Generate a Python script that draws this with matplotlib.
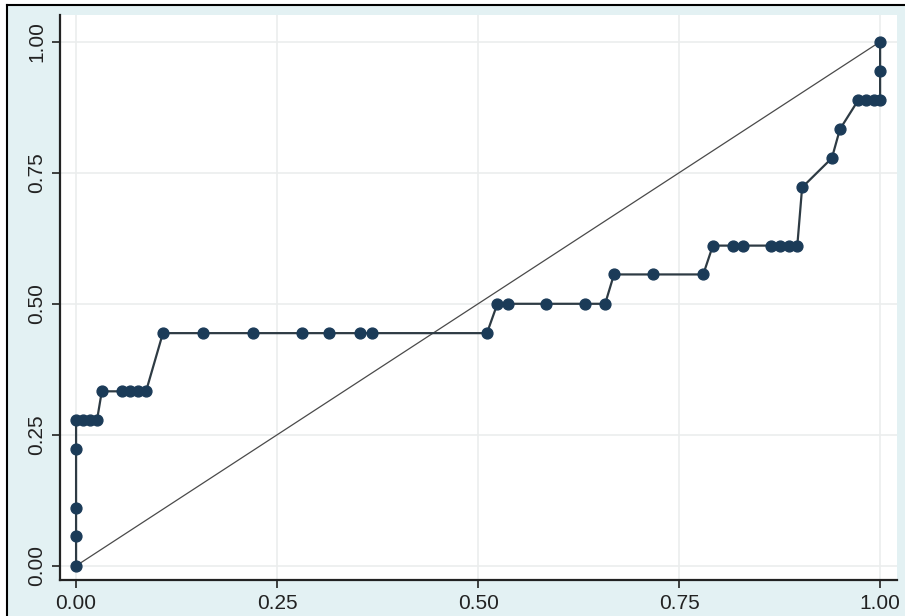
import matplotlib
matplotlib.use('Agg')
import matplotlib.pyplot as plt
from matplotlib.lines import Line2D

plt.rcParams['font.family'] = ['Liberation Sans', 'DejaVu Sans']

# ROC points: 1 - specificity, sensitivity
fpr = [0.0, 0.0, 0.0, 0.0, 0.0,
       0.009, 0.017, 0.026,
       0.032, 0.057, 0.067, 0.077, 0.087,
       0.108, 0.158, 0.220, 0.281, 0.315, 0.353, 0.368, 0.511,
       0.524, 0.537, 0.585, 0.633, 0.658,
       0.669, 0.718, 0.780,
       0.792, 0.817, 0.830, 0.864, 0.876, 0.887, 0.897,
       0.903, 0.940, 0.950,
       0.973, 0.983, 0.993, 1.0,
       1.0, 1.0]
tpr = [0.0, 0.056, 0.111, 0.222, 0.278,
       0.278, 0.278, 0.278,
       0.333, 0.333, 0.333, 0.333, 0.333,
       0.444, 0.444, 0.444, 0.444, 0.444, 0.444, 0.444, 0.444,
       0.5, 0.5, 0.5, 0.5, 0.5,
       0.556, 0.556, 0.556,
       0.611, 0.611, 0.611, 0.611, 0.611, 0.611, 0.611,
       0.722, 0.778, 0.833,
       0.889, 0.889, 0.889, 0.889,
       0.944, 1.0]

ref_line = [0.0, 1.0]
ticks = [0.0, 0.25, 0.5, 0.75, 1.0]
tick_labels = ['0.00', '0.25', '0.50', '0.75', '1.00']

W, H = 905, 616
fig = plt.figure(figsize=(W / 100, H / 100), dpi=100)
fig.patch.set_facecolor('white')

# bluish graph region inside the black frame
bg = plt.Rectangle((7 / W, 0), 1 - 7 / W, 1 - 5 / H, transform=fig.transFigure,
                   facecolor='#e3f1f3', edgecolor='none', zorder=-10)
fig.patches.append(bg)
fig.add_artist(Line2D([7 / W, 1], [1 - 5 / H, 1 - 5 / H], color='black', lw=1.5))
fig.add_artist(Line2D([7 / W, 7 / W], [0, 1 - 5 / H], color='black', lw=1.5))

left, right, top, bottom = 60, 897, 15, 580
ax = fig.add_axes([left / W, 1 - bottom / H, (right - left) / W, (bottom - top) / H])
ax.set_facecolor('white')

ax.plot(ref_line, ref_line, color='#4a4a4a', lw=0.9, zorder=2)
ax.plot(fpr, tpr, color='#2e3b44', lw=1.6, marker='o', markersize=7.8,
        markerfacecolor='#1b3b58', markeredgecolor='#1b3b58', zorder=3)

ax.set_xlim(-0.02, 1.021)
ax.set_ylim(-0.027, 1.051)
ax.set_xticks(ticks)
ax.set_xticklabels(tick_labels)
ax.set_yticks(ticks)
ax.set_yticklabels(tick_labels, rotation=90, va='center')
ax.grid(True, color='#ebeded', lw=1.2)
ax.set_axisbelow(True)

for side in ['top', 'right']:
    ax.spines[side].set_visible(False)
for side in ['left', 'bottom']:
    ax.spines[side].set_color('#222222')
    ax.spines[side].set_linewidth(1.6)
ax.tick_params(direction='out', length=6, width=1.2, color='#222222',
               labelsize=15, labelcolor='#222222', pad=4)

fig.savefig('out.png', dpi=100)
